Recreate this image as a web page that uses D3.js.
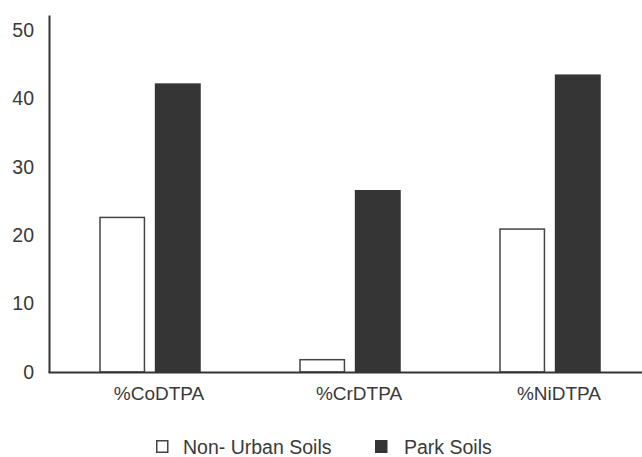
<!DOCTYPE html>
<html><head><meta charset="utf-8">
<script src="https://cdn.jsdelivr.net/npm/d3@7"></script>
<style>body{margin:0;background:#fff}svg{display:block}text{font-family:Arial,"Liberation Sans",sans-serif;fill:#3a3a3a}</style>
</head><body><svg id="c" width="642" height="457"></svg>
<script>
const categories = ["%CoDTPA", "%CrDTPA", "%NiDTPA"];
const seriesNames = ["Non- Urban Soils", "Park Soils"];
const nonUrban = [22.6, 1.8, 20.9];
const park = [42.1, 26.5, 43.4];
const yTicks = [0, 10, 20, 30, 40, 50];

const svg = d3.select("#c");
const y = d3.scaleLinear().domain([0, 52.2]).range([372, 15]);
const x0 = d3.scaleBand().domain(categories).range([50, 650]).paddingInner(0.5).paddingOuter(0.25);
const x1 = d3.scaleBand().domain(seriesNames).range([0, x0.bandwidth()]).paddingInner(0.2);
const fills = {"Non- Urban Soils": "#ffffff", "Park Soils": "#353535"};
const strokes = {"Non- Urban Soils": "#444", "Park Soils": "#353535"};

const data = categories.map((c, i) => ({cat: c, vals: [
  {s: seriesNames[0], v: nonUrban[i]}, {s: seriesNames[1], v: park[i]}]}));

const g = svg.selectAll("g.grp").data(data).enter().append("g")
  .attr("transform", d => `translate(${x0(d.cat)},0)`);
g.selectAll("rect").data(d => d.vals).enter().append("rect")
  .attr("x", d => x1(d.s)).attr("width", x1.bandwidth())
  .attr("y", d => y(d.v)).attr("height", d => y(0) - y(d.v))
  .attr("fill", d => fills[d.s]).attr("stroke", d => strokes[d.s]).attr("stroke-width", 1.5);

// y axis
const ya = svg.append("g").attr("transform", "translate(49,0)")
  .call(d3.axisLeft(y).tickValues(yTicks).tickSize(0).tickPadding(15).tickFormat(d3.format("d")));
ya.select(".domain").attr("stroke", "#333").attr("stroke-width", 2);
ya.selectAll("text").attr("font-size", 19.5).style("fill", "#3a3a3a");

// x axis
const xa = svg.append("g").attr("transform", `translate(0,${y(0)})`)
  .call(d3.axisBottom(d3.scaleLinear().domain([0,1]).range([48, 642])).tickValues([]).tickSizeOuter(0));
xa.select(".domain").attr("stroke", "#333").attr("stroke-width", 2);

svg.selectAll("text.cat").data(categories).enter().append("text").attr("class", "cat")
  .attr("x", d => x0(d) + x0.bandwidth() / 2 + 9).attr("y", 400)
  .attr("text-anchor", "middle").attr("font-size", 19).text(d => d);

// legend
const legX = [156, 375];
const lg = svg.selectAll("g.leg").data(seriesNames).enter().append("g")
  .attr("transform", (d, i) => `translate(${legX[i]},440)`);
lg.append("rect").attr("x", 0.75).attr("y", 0.75).attr("width", 11).attr("height", 11.5)
  .attr("fill", d => fills[d]).attr("stroke", d => strokes[d]).attr("stroke-width", 1.5);
lg.append("text").attr("x", (d, i) => i === 0 ? 27 : 29).attr("y", 13.5).attr("font-size", 19.5).text(d => d);
</script></body></html>
